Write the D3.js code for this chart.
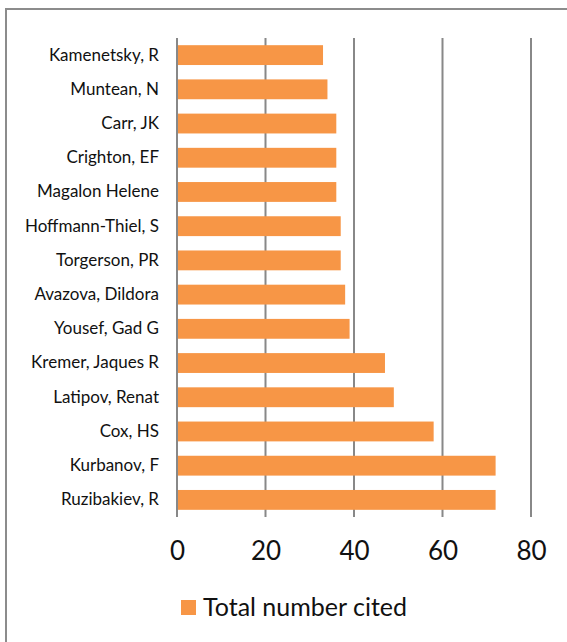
<!DOCTYPE html>
<html>
<head>
<meta charset="utf-8">
<script src="https://cdn.jsdelivr.net/npm/d3@7"></script>
<style>
  body { margin: 0; background: #fff; }
  svg { display: block; font-family: Lato, "Open Sans", sans-serif; }
</style>
</head>
<body>
<div id="chart"></div>
<script>
// authors, top to bottom
const authors = ["Kamenetsky, R", "Muntean, N", "Carr, JK", "Crighton, EF", "Magalon Helene",
    "Hoffmann-Thiel, S", "Torgerson, PR", "Avazova, Dildora", "Yousef, Gad G", "Kremer, Jaques R",
    "Latipov, Renat", "Cox, HS", "Kurbanov, F", "Ruzibakiev, R"];
const cited = [33, 34, 36, 36, 36, 37, 37, 38, 39, 47, 49, 58, 72, 72];
const xTicks = [0, 20, 40, 60, 80];
const seriesName = "Total number cited";

const W = 567, H = 642;
const margin = {top: 38, right: 36, bottom: 125, left: 177};
const width = W - margin.left - margin.right;
const height = H - margin.top - margin.bottom;
const barColor = "#f79646";
const gridColor = "#888888";

const svg = d3.select("#chart").append("svg")
    .attr("width", W)
    .attr("height", H);

// outer frame (runs off the right and bottom edge)
svg.append("rect")
    .attr("x", 6).attr("y", 9)
    .attr("width", W + 20).attr("height", H + 20)
    .attr("fill", "none")
    .attr("stroke", "#8c8c8c")
    .attr("stroke-width", 2);

const g = svg.append("g")
    .attr("transform", "translate(" + margin.left + "," + margin.top + ")");

const x = d3.scaleLinear().domain([0, 80]).range([0, width]);
const y = d3.scaleBand().domain(authors).range([0, height]).paddingInner(0.42).paddingOuter(0.21);

// gridlines
g.selectAll(".grid")
    .data(xTicks)
    .enter().append("line")
    .attr("x1", d => x(d)).attr("x2", d => x(d))
    .attr("y1", 0).attr("y2", height)
    .attr("stroke", gridColor)
    .attr("stroke-width", 2);

g.selectAll(".bar")
    .data(authors)
    .enter().append("rect")
    .attr("x", x(0) + 1)
    .attr("y", d => y(d))
    .attr("width", (d, i) => x(cited[i]) - x(0) - 1)
    .attr("height", y.bandwidth())
    .attr("fill", barColor);

// x axis labels
const xAxis = d3.axisBottom(x).tickValues(xTicks).tickSize(0).tickPadding(25);
g.append("g")
    .attr("transform", "translate(0," + height + ")")
    .call(xAxis)
    .call(a => a.select(".domain").remove())
    .selectAll("text")
    .attr("font-size", "26px")
    .attr("font-family", "Lato, 'Open Sans', sans-serif")
    .attr("fill", "#111");

// y axis labels
const yAxis = d3.axisLeft(y).tickSize(0).tickPadding(18);
g.append("g")
    .call(yAxis)
    .call(a => a.select(".domain").remove())
    .selectAll("text")
    .attr("font-size", "17px")
    .attr("font-family", "Lato, 'Open Sans', sans-serif")
    .attr("fill", "#111");

// legend
const legend = svg.append("g").attr("transform", "translate(181,600)");
legend.append("rect")
    .attr("width", 15).attr("height", 15)
    .attr("fill", barColor);
legend.append("text")
    .attr("x", 22).attr("y", 16)
    .attr("font-size", "25px")
    .attr("fill", "#111")
    .text(seriesName);
</script>
</body>
</html>
